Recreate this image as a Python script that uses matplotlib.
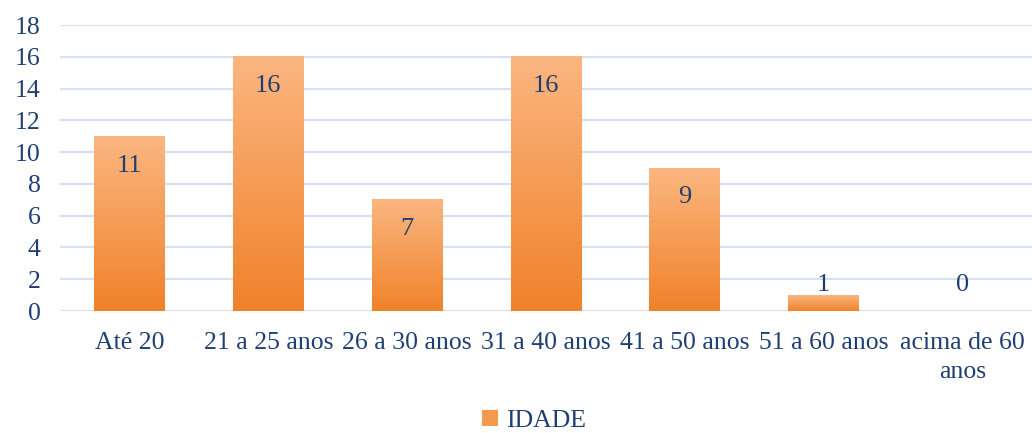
import numpy as np
import matplotlib
matplotlib.use('Agg')
import matplotlib.pyplot as plt
from matplotlib.colors import LinearSegmentedColormap
from matplotlib.patches import Patch, Rectangle

# Chart data
categorias = ['Até 20', '21 a 25 anos', '26 a 30 anos', '31 a 40 anos',
              '41 a 50 anos', '51 a 60 anos', 'acima de 60\nanos']
valores = [11, 16, 7, 16, 9, 1, 0]
serie = 'IDADE'

texto_cor = '#1F3F73'
grade_cor = '#D6E0EF'
laranja = LinearSegmentedColormap.from_list('laranja', ['#F0822A', '#FBB680'])

plt.rcParams['font.family'] = ['Liberation Serif', 'DejaVu Serif']

fig = plt.figure(figsize=(10.32, 4.33), dpi=100)
ax = fig.add_axes([60 / 1032, 122 / 433, 972 / 1032, 286 / 433])

x = np.arange(len(categorias))
largura = 0.51
grad = np.linspace(0, 1, 256).reshape(-1, 1)

for xi, v in zip(x, valores):
    if v <= 0:
        continue
    # light shadow below the bar
    ax.add_patch(Rectangle((xi - largura / 2, -0.12), largura, v,
                           color='#000000', alpha=0.10, lw=0, zorder=2))
    ax.imshow(grad, cmap=laranja, origin='lower', aspect='auto',
              extent=[xi - largura / 2, xi + largura / 2, 0, v], zorder=3)

# data labels: inside end, pushed up for very short bars
for xi, v in zip(x, valores):
    y_rot = max(v - 1.85, 1.65)
    ax.text(xi, y_rot, str(v), ha='center', va='center', fontsize=19,
            color=texto_cor, zorder=4)

ax.set_xlim(-0.5, len(categorias) - 0.5)
ax.set_ylim(0, 18)
ax.set_yticks(range(0, 19, 2))
ax.set_xticks(x)
ax.set_xticklabels(categorias, linespacing=1.45)
ax.yaxis.grid(True, color=grade_cor, linewidth=1.6)
ax.set_axisbelow(True)
for s in ax.spines.values():
    s.set_visible(False)
ax.tick_params(length=0, labelsize=18.5, colors=texto_cor)
ax.tick_params(axis='x', pad=15)
ax.tick_params(axis='y', pad=14)

fig.legend(handles=[Patch(facecolor='#F5994F', edgecolor='none')],
           labels=[serie], loc='center', bbox_to_anchor=(534 / 1032, 12 / 433),
           frameon=False, fontsize=18.5, labelcolor=texto_cor,
           handlelength=0.6, handleheight=0.6, handletextpad=0.3)

fig.savefig('out.png', dpi=100)
